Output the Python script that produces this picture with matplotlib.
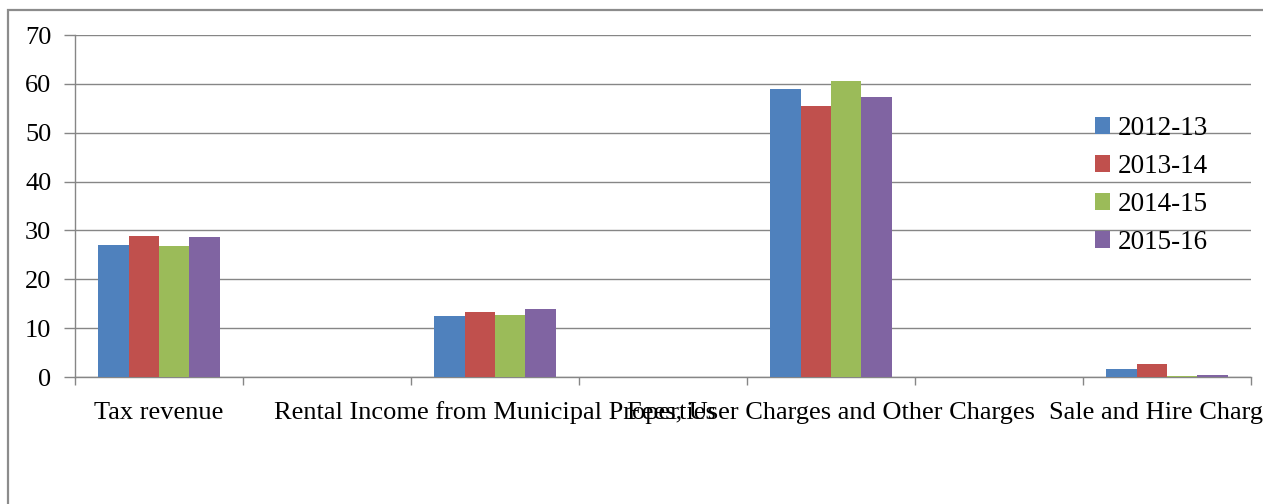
import matplotlib.pyplot as plt
from matplotlib.patches import Rectangle
import numpy as np

plt.rcParams['font.family'] = ['Liberation Serif', 'DejaVu Serif']

# Revenue share by source (%), with blank spacer slots between sources
categories = ['Tax revenue', '', 'Rental Income from Municipal Properties', '',
              'Fees, User Charges and Other Charges', '', 'Sale and Hire Charges']
years = ['2012-13', '2013-14', '2014-15', '2015-16']
v_2012_13 = [27.1, 0, 12.4, 0, 58.9, 0, 1.7]
v_2013_14 = [28.9, 0, 13.3, 0, 55.5, 0, 2.6]
v_2014_15 = [26.8, 0, 12.6, 0, 60.5, 0, 0.3]
v_2015_16 = [28.7, 0, 14.0, 0, 57.3, 0, 0.35]
series = [v_2012_13, v_2013_14, v_2014_15, v_2015_16]
colors = ['#4F81BD', '#C0504D', '#9BBB59', '#8064A2']

W, H = 1263, 504
fig = plt.figure(figsize=(W / 100, H / 100), dpi=100)
ax = fig.add_axes([75 / W, (H - 377) / H, (1251 - 75) / W, (377 - 35) / H])

x = np.arange(len(categories))
bw = 0.181
for i, (vals, col) in enumerate(zip(series, colors)):
    ax.bar(x + (i - 1.5) * bw, vals, width=bw, color=col, label=years[i],
           zorder=3)

grid_col = '#868686'
ax.set_xlim(-0.5, len(categories) - 0.5)
ax.set_ylim(0, 70)
ax.set_yticks(range(0, 71, 10))
ax.yaxis.grid(True, color=grid_col, linewidth=1.0, zorder=0)
ax.tick_params(axis='y', length=8, width=1, color=grid_col, pad=9,
               labelsize=19)

ax.set_xticks(x)
ax.set_xticklabels(categories, va='baseline')
ax.set_xticks(np.arange(-0.5, len(categories), 1.0), minor=True)
ax.tick_params(axis='x', which='major', length=0, pad=30, labelsize=19)
ax.tick_params(axis='x', which='minor', length=6, width=1, color=grid_col)

for side in ['top', 'right']:
    ax.spines[side].set_visible(False)
for side in ['left', 'bottom']:
    ax.spines[side].set_color(grid_col)
    ax.spines[side].set_linewidth(1.0)

ax.legend(loc='upper left', bbox_to_anchor=(1095 / W, (H - 116) / H),
          bbox_transform=fig.transFigure, frameon=False, fontsize=19.5,
          handlelength=0.55, handleheight=0.55, handletextpad=0.3,
          labelspacing=0.48, borderaxespad=0, borderpad=0)

# chart area border
fig.patches.append(Rectangle((8 / W, -0.2), 1.2, (H - 10) / H + 0.2,
                             transform=fig.transFigure, fill=False,
                             edgecolor='#8c8c8c', linewidth=1.6))

fig.savefig('out.png', dpi=100)
